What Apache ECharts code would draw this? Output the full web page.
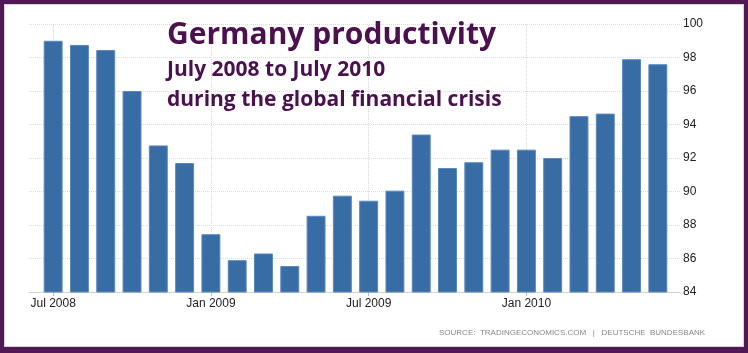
<!DOCTYPE html>
<html>
<head>
<meta charset="utf-8">
<script src="https://cdn.jsdelivr.net/npm/echarts@6/dist/echarts.min.js"></script>
<style>
  html, body { margin: 0; padding: 0; background: #fff; }
  #main { position: absolute; left: 0; top: 0; width: 748px; height: 353px; }
  #frame {
    position: absolute; left: 0; top: 0; width: 748px; height: 353px;
    box-sizing: border-box; border: 4px solid #521856; border-bottom-width: 6px;
    box-shadow: inset 0 0 0 1px #d6d6d6; pointer-events: none;
  }
</style>
</head>
<body>
<div id="main"></div>
<div id="frame"></div>
<script>
var months = [
  "Jul 2008", "Aug 2008", "Sep 2008", "Oct 2008", "Nov 2008", "Dec 2008",
  "Jan 2009", "Feb 2009", "Mar 2009", "Apr 2009", "May 2009", "Jun 2009",
  "Jul 2009", "Aug 2009", "Sep 2009", "Oct 2009", "Nov 2009", "Dec 2009",
  "Jan 2010", "Feb 2010", "Mar 2010", "Apr 2010", "May 2010", "Jun 2010"
];
var productivity = [
  99.0, 98.75, 98.45, 96.0, 92.75, 91.7,
  87.45, 85.9, 86.3, 85.55, 88.55, 89.75,
  89.45, 90.05, 93.4, 91.4, 91.75, 92.5,
  92.5, 92.0, 94.5, 94.65, 97.9, 97.6
];
var markedMonths = ["Jul 2008", "Jan 2009", "Jul 2009", "Jan 2010"];
var yMin = 84, yMax = 100, yStep = 2;

var purple = "#4b114e";
var chart = echarts.init(document.getElementById("main"));

chart.setOption({
  animation: false,
  title: [
    {
      text: "Germany productivity",
      left: 167, top: 20, padding: 0,
      textStyle: { fontFamily: "Open Sans", fontWeight: "bold", fontSize: 30, color: purple }
    },
    {
      text: "July 2008 to July 2010\nduring the global financial crisis",
      left: 167, top: 55, padding: 0,
      textStyle: { fontFamily: "Open Sans", fontWeight: "bold", fontSize: 21, lineHeight: 30, color: purple }
    },
    {
      text: "SOURCE:  TRADINGECONOMICS.COM   |   DEUTSCHE  BUNDESBANK",
      left: 439, top: 329, padding: 0,
      textStyle: { fontFamily: "Liberation Sans", fontWeight: "normal", fontSize: 8, color: "#888" }
    }
  ],
  grid: [
    { left: 29, right: 68, top: 24, bottom: 61 },
    { left: 40, right: 77, top: 24, bottom: 61 }
  ],
  xAxis: [
    {
      gridIndex: 0, type: "value", min: 0, max: 1,
      axisLine: { show: true, lineStyle: { color: "#c8c8c8", type: "dotted" } },
      axisTick: { show: false }, axisLabel: { show: false }, splitLine: { show: false }
    },
    {
      gridIndex: 1, type: "category", data: months,
      axisLine: { show: false },
      axisTick: { show: true, alignWithLabel: true, interval: 5, length: 4, lineStyle: { color: "#bbb" } },
      axisLabel: { interval: 5, margin: 6, color: "#222", fontFamily: "Liberation Sans", fontSize: 12 },
      splitLine: { show: false }
    }
  ],
  yAxis: [
    {
      gridIndex: 0, type: "value", position: "right", min: yMin, max: yMax, interval: yStep,
      axisLine: { show: false }, axisTick: { show: false },
      axisLabel: { margin: 3, color: "#222", fontFamily: "Liberation Sans", fontSize: 12 },
      splitLine: { lineStyle: { color: "#dcdcdc", type: "dotted" } }
    },
    {
      gridIndex: 1, type: "value", min: yMin, max: yMax, interval: yStep,
      show: false
    }
  ],
  series: [
    {
      type: "bar",
      xAxisIndex: 1, yAxisIndex: 1,
      data: productivity,
      barCategoryGap: "28%",
      itemStyle: { color: "#386ca5", borderColor: "#5a89bd", borderWidth: 1 },
      markLine: {
        silent: true, symbol: "none", z: 1,
        label: { show: false },
        lineStyle: { color: "#d8d8d8", type: "dotted", width: 1 },
        data: markedMonths.map(function (m) { return { xAxis: m }; })
      }
    }
  ]
});
</script>
</body>
</html>
